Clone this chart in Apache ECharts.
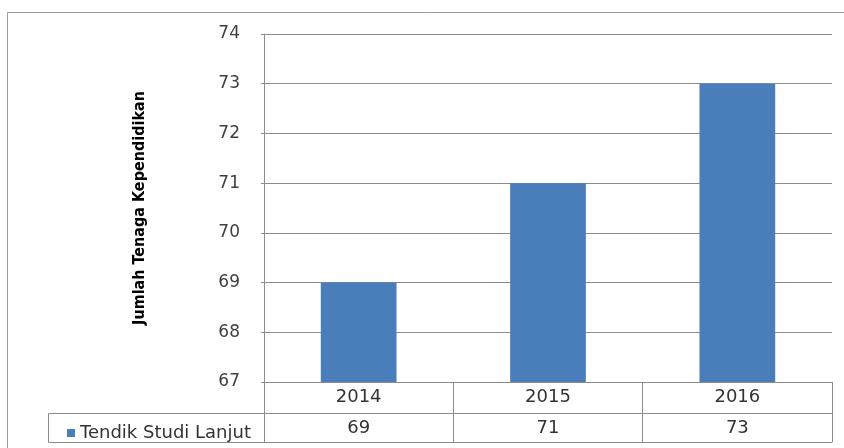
<!DOCTYPE html>
<html>
<head>
<meta charset="utf-8">
<script src="https://cdn.jsdelivr.net/npm/echarts@6/dist/echarts.min.js"></script>
<style>html,body{margin:0;padding:0;background:#fff;}#c{width:844px;height:448px;}</style>
</head>
<body>
<div id="c"></div>
<script>
var categories = ['2014', '2015', '2016'];
var seriesName = 'Tendik Studi Lanjut';
var values = [69, 71, 73];
var yTitle = 'Jumlah Tenaga Kependidikan';

var chart = echarts.init(document.getElementById('c'));
var lineColor = '#8c8c8c';
var font = 'DejaVu Sans';
chart.setOption({
  animation: false,
  backgroundColor: '#fff',
  grid: { left: 264, right: 12, top: 34, bottom: 66, containLabel: false },
  legend: {
    data: [seriesName], left: 62, top: 419, icon: 'rect', itemWidth: 8, itemHeight: 8,
    textStyle: { fontFamily: font, fontSize: 18, color: '#333' }, selectedMode: false
  },
  xAxis: [
    {
      type: 'category', data: categories, position: 'bottom',
      axisLine: { show: true, lineStyle: { color: lineColor, width: 1 } },
      axisTick: { show: true, length: 60, interval: 0, lineStyle: { color: lineColor } },
      axisLabel: { margin: 6, fontFamily: font, fontSize: 18, color: '#333' },
      splitLine: { show: false }
    },
    {
      type: 'category', data: values.map(String), position: 'bottom', offset: 31,
      axisLine: { show: true, lineStyle: { color: lineColor, width: 1 } },
      axisTick: { show: false },
      axisLabel: { margin: 6, fontFamily: font, fontSize: 18, color: '#333' },
      splitLine: { show: false }
    },
    {
      type: 'category', data: categories, position: 'bottom', offset: 60,
      axisLine: { show: true, lineStyle: { color: lineColor, width: 1 } },
      axisTick: { show: false }, axisLabel: { show: false }, splitLine: { show: false }
    }
  ],
  yAxis: {
    type: 'value', min: 67, max: 74, interval: 1,
    name: yTitle, nameLocation: 'middle', nameGap: 116, nameRotate: 90,
    nameTextStyle: { fontFamily: 'DejaVu Sans Condensed', fontWeight: 'bold', fontSize: 16, color: '#000' },
    axisLine: { show: true, lineStyle: { color: lineColor, width: 1 } },
    axisTick: { show: true, length: 3, lineStyle: { color: lineColor } },
    axisLabel: { margin: 24, fontFamily: font, fontSize: 17, color: '#404040' },
    splitLine: { show: true, lineStyle: { color: lineColor, width: 1 } }
  },
  series: [{
    name: seriesName, type: 'bar', data: values, barWidth: '40%', xAxisIndex: 0,
    itemStyle: { color: '#4a7ebb' }
  }],
  graphic: [
    { type: 'rect', shape: { x: 7.5, y: 12.5, width: 860, height: 460 }, style: { fill: 'none', stroke: '#9a9a9a', lineWidth: 1 }, silent: true },
    { type: 'line', shape: { x1: 48.5, y1: 413.5, x2: 264, y2: 413.5 }, style: { stroke: lineColor, lineWidth: 1 } },
    { type: 'line', shape: { x1: 48.5, y1: 442.5, x2: 264, y2: 442.5 }, style: { stroke: lineColor, lineWidth: 1 } },
    { type: 'line', shape: { x1: 48.5, y1: 413.5, x2: 48.5, y2: 442.5 }, style: { stroke: lineColor, lineWidth: 1 } }
  ]
});
</script>
</body>
</html>
